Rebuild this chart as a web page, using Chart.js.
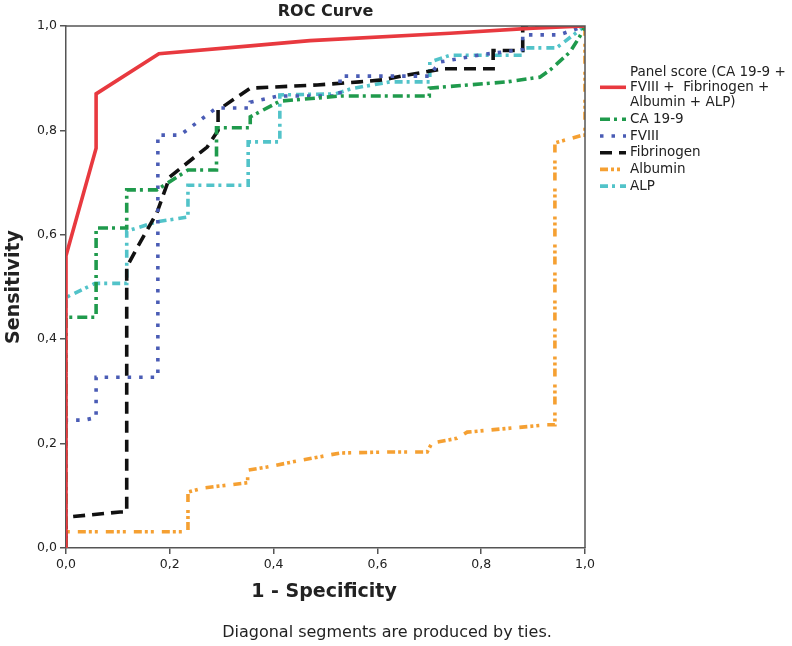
<!DOCTYPE html>
<html><head><meta charset="utf-8">
<script src="https://cdn.jsdelivr.net/npm/chart.js@4/dist/chart.umd.min.js"></script>
<style>html,body{margin:0;padding:0;background:#fff}#wrap{width:792px;height:646px;position:relative}</style>
</head><body><div id="wrap"><canvas id="c" width="792" height="646"></canvas></div>
<script>
// ---- data ----
const chartTitle = 'ROC Curve';
const xTitle = '1 - Specificity';
const yTitle = 'Sensitivity';
const footnote = 'Diagonal segments are produced by ties.';
const tickValues = [0, 0.2, 0.4, 0.6, 0.8, 1.0];

const panelLabel = ['Panel score (CA 19-9 +', 'FVIII +  Fibrinogen +', 'Albumin + ALP)'];
const panelX = [0, 0, 0.058, 0.058, 0.179, 0.355, 0.47, 0.74, 0.9, 1];
const panelY = [0, 0.56, 0.766, 0.87, 0.947, 0.962, 0.972, 0.986, 0.996, 1];

const caLabel = ['CA 19-9'];
const caX = [0, 0, 0.058, 0.058, 0.117, 0.117, 0.175, 0.235, 0.29, 0.29, 0.355, 0.355, 0.412, 0.53, 0.70, 0.70, 0.85, 0.913, 0.933, 0.971, 0.99, 1];
const caY = [0, 0.442, 0.442, 0.613, 0.613, 0.686, 0.686, 0.724, 0.724, 0.805, 0.805, 0.826, 0.856, 0.866, 0.866, 0.881, 0.893, 0.902, 0.916, 0.95, 0.98, 1];

const fviiiLabel = ['FVIII'];
const fviiiX = [0, 0, 0.035, 0.058, 0.058, 0.177, 0.177, 0.22, 0.29, 0.355, 0.355, 0.41, 0.528, 0.528, 0.70, 0.72, 0.80, 0.88, 0.88, 0.95, 1];
const fviiiY = [0, 0.245, 0.245, 0.25, 0.327, 0.327, 0.791, 0.791, 0.843, 0.843, 0.854, 0.866, 0.866, 0.904, 0.904, 0.931, 0.945, 0.955, 0.983, 0.983, 1];

const fibLabel = ['Fibrinogen'];
const fibX = [0, 0, 0.104, 0.117, 0.117, 0.137, 0.175, 0.2, 0.272, 0.293, 0.293, 0.355, 0.484, 0.566, 0.611, 0.657, 0.726, 0.823, 0.823, 0.88, 0.88, 1];
const fibY = [0, 0.059, 0.069, 0.069, 0.538, 0.575, 0.642, 0.711, 0.768, 0.80, 0.839, 0.881, 0.887, 0.893, 0.897, 0.906, 0.918, 0.918, 0.953, 0.953, 1.0, 1.0];

const albLabel = ['Albumin'];
const albX = [0, 0, 0.235, 0.235, 0.264, 0.35, 0.35, 0.387, 0.437, 0.528, 0.624, 0.696, 0.705, 0.753, 0.763, 0.773, 0.927, 0.942, 0.942, 0.996, 1, 1];
const albY = [0, 0.031, 0.031, 0.107, 0.115, 0.125, 0.149, 0.155, 0.165, 0.182, 0.184, 0.184, 0.201, 0.21, 0.216, 0.222, 0.236, 0.236, 0.776, 0.791, 0.791, 1];

const alpLabel = ['ALP'];
const alpX = [0, 0, 0.056, 0.117, 0.117, 0.175, 0.235, 0.235, 0.338, 0.351, 0.351, 0.412, 0.412, 0.52, 0.55, 0.624, 0.701, 0.701, 0.74, 0.88, 0.88, 0.945, 1];
const alpY = [0, 0.48, 0.507, 0.507, 0.607, 0.625, 0.634, 0.695, 0.695, 0.695, 0.778, 0.778, 0.868, 0.87, 0.88, 0.893, 0.893, 0.931, 0.944, 0.944, 0.958, 0.958, 1];

// ---- styles ----
const series = [
  {label: panelLabel, xs: panelX, ys: panelY, color: '#e8393f', dash: [], width: 3.6},
  {label: caLabel, xs: caX, ys: caY, color: '#1f9a4c', dash: [10, 4, 3, 5], width: 3.6},
  {label: fviiiLabel, xs: fviiiX, ys: fviiiY, color: '#4a5cb5', dash: [3.5, 8], width: 3.6},
  {label: fibLabel, xs: fibX, ys: fibY, color: '#111111', dash: [12, 7], width: 3.6},
  {label: albLabel, xs: albX, ys: albY, color: '#f5a032', dash: [8, 3, 3, 3, 3, 8], width: 3.6},
  {label: alpLabel, xs: alpX, ys: alpY, color: '#52c3c9', dash: [8, 4, 3, 5], width: 3.6}
];

const FONT = '"DejaVu Sans", sans-serif';
const TXT = '#222222';
const fmt = v => Number(v).toFixed(1).replace('.', ',');

const datasets = series.map(s => ({
  label: s.label.join(' '),
  data: s.xs.map((x, i) => ({x: x, y: s.ys[i]})),
  showLine: true,
  borderColor: s.color,
  backgroundColor: s.color,
  borderWidth: s.width,
  borderDash: s.dash,
  pointRadius: 0,
  tension: 0,
  fill: false
}));

const decor = {
  id: 'decor',
  afterDraw(chart) {
    const ctx = chart.ctx;
    const a = chart.chartArea;
    ctx.save();
    ctx.strokeStyle = '#555';
    ctx.lineWidth = 1.5;
    ctx.beginPath();
    ctx.moveTo(a.left, a.top); ctx.lineTo(a.right, a.top); ctx.lineTo(a.right, a.bottom);
    ctx.stroke();
    ctx.fillStyle = TXT;
    ctx.textAlign = 'center';
    ctx.textBaseline = 'middle';
    ctx.font = 'bold 16px ' + FONT;
    ctx.fillText(chartTitle, (a.left + a.right) / 2, 12);
    ctx.font = 'bold 19px ' + FONT;
    ctx.fillText(xTitle, 324, 592);
    ctx.save();
    ctx.translate(14, 287);
    ctx.rotate(-Math.PI / 2);
    ctx.fillText(yTitle, 0, 0);
    ctx.restore();
    ctx.font = '16px ' + FONT;
    ctx.fillText(footnote, 387, 633);
    // legend
    ctx.textAlign = 'left';
    ctx.font = '13.5px ' + FONT;
    let y = 72;
    series.forEach(s => {
      const n = s.label.length;
      s.label.forEach((t, k) => ctx.fillText(t, 630, y + k * 15.3));
      const sy = y + (n - 1) * 15.3 / 2;
      ctx.strokeStyle = s.color;
      ctx.lineWidth = s.width;
      ctx.setLineDash(s.dash);
      ctx.beginPath(); ctx.moveTo(600, sy); ctx.lineTo(626, sy); ctx.stroke();
      ctx.setLineDash([]);
      y += (n - 1) * 15.3 + 16.7;
    });
    ctx.restore();
  }
};

const axisCommon = {
  type: 'linear', min: 0, max: 1,
  afterBuildTicks: sc => { sc.ticks = tickValues.map(v => ({value: v})); },
  ticks: {callback: v => fmt(v), color: TXT, font: {family: FONT, size: 12.5}, padding: 3, autoSkip: false, maxRotation: 0},
  grid: {display: true, drawOnChartArea: false, drawTicks: true, tickLength: 6, color: '#555', lineWidth: 1.5},
  border: {display: true, color: '#555', width: 1.5}
};

new Chart(document.getElementById('c'), {
  type: 'scatter',
  data: {datasets: datasets},
  options: {
    responsive: false,
    animation: false,
    devicePixelRatio: 1,
    layout: {padding: {left: 0, top: 26, right: 207, bottom: 0}},
    plugins: {legend: {display: false}, title: {display: false}, tooltip: {enabled: false}},
    scales: {
      x: Object.assign({}, axisCommon, {position: 'bottom', afterFit: s => { s.height = 98; }}),
      y: Object.assign({}, axisCommon, {position: 'left', afterFit: s => { s.width = 66; }})
    }
  },
  plugins: [decor]
});
</script>
</body></html>
